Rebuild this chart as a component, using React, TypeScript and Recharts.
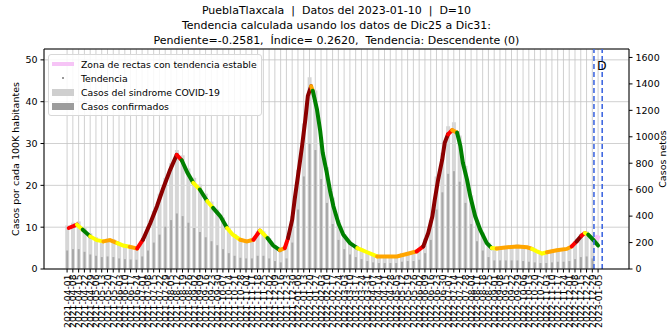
import React from "react";
import { ComposedChart, Bar, Line, XAxis, YAxis, CartesianGrid, ReferenceLine } from "recharts";

const START = Date.UTC(2021, 3, 1);
const DAY = 86400000;
const fmt = (d: number) => new Date(START + d * DAY).toISOString().slice(0, 10);

// weekly x ticks from 2021-04-01
const tickDays = Array.from({ length: 93 }, (_, i) => i * 7);

// weekly bars (days since 2021-04-01), casos netos
const barDays = Array.from({ length: 92 }, (_, i) => i * 7);
const sindrome = [
  330, 350, 360, 310, 270, 240, 220, 230, 225, 200, 185, 180, 165, 220, 320, 440,
  570, 690, 800, 900, 860, 760, 690, 640, 570, 510, 450, 390, 310, 265, 235, 220,
  230, 285, 285, 235, 180, 155, 200, 400, 750, 1100, 1450, 1350, 1000, 770, 540, 370,
  265, 210, 180, 155, 135, 115, 100, 100, 100, 100, 120, 130, 135, 155, 230, 370,
  700, 880, 1080, 1110, 1010, 780, 560, 370, 275, 200, 165, 170, 175, 180, 185, 180,
  170, 155, 130, 130, 145, 155, 160, 170, 210, 265, 285, 240,
];
const confirmados = [
  140, 150, 150, 130, 110, 100, 90, 95, 90, 80, 75, 72, 70, 95, 140, 200,
  260, 320, 370, 420, 400, 350, 310, 280, 240, 210, 180, 150, 120, 100, 85, 80,
  80, 100, 100, 80, 60, 50, 80, 200, 450, 700, 950, 900, 680, 500, 340, 220,
  150, 110, 90, 75, 60, 50, 45, 45, 45, 45, 55, 60, 60, 70, 120, 220,
  450, 580, 720, 740, 660, 500, 340, 210, 140, 90, 65, 65, 65, 65, 65, 60,
  55, 50, 45, 45, 50, 55, 55, 60, 75, 90, 95, 80,
];

// tendencia (casos por 100K), days since 2021-04-01
const trendDays = [
  2, 12, 19, 28, 36, 44, 52, 61, 68, 76, 85, 92, 101, 109, 116, 125, 133, 139, 146, 153,
  161, 170, 177, 186, 194, 201, 210, 218, 226, 234, 243, 250, 258, 264, 268, 273, 276, 280, 285, 289,
  292, 296, 298, 303, 307, 310, 315, 319, 323, 329, 335, 343, 352, 364, 376, 388, 400, 412, 420, 424,
  432, 438, 443, 446, 450, 455, 458, 462, 467, 473, 477, 480, 485, 489, 495, 501, 509, 515, 521, 534,
  546, 558, 564, 570, 576, 582, 594, 606, 612, 618, 624, 628, 632, 638, 644,
];
const trendValues = [
  9.8, 10.6, 9.4, 7.8, 6.9, 6.6, 6.9, 6.2, 5.6, 5.3, 4.9, 7.0, 11, 15, 19, 23.7, 27.3, 26, 23, 20.6,
  19, 16.2, 14.6, 12.6, 9.8, 8.2, 7.0, 6.6, 7.0, 9.2, 7.4, 5.6, 4.5, 5.0, 7.4, 11.8, 16.6, 22.2, 29.4, 35.8,
  41.4, 43.7, 42.6, 38.2, 33, 27.8, 23, 18.6, 15, 11, 8.2, 6.2, 5.0, 4.0, 3.0, 3.0, 3.0, 3.6, 4.0, 4.2,
  5.4, 8.6, 12.6, 16.6, 21.4, 26.2, 30.2, 32.2, 33.2, 32.6, 29.4, 25.4, 21.4, 17.4, 12.6, 9.4, 6.2, 5.0, 4.9, 5.2,
  5.4, 5.2, 4.8, 4.2, 3.7, 4.0, 4.5, 4.8, 5.4, 6.6, 8.0, 8.6, 8.2, 7.0, 5.6,
];
// one code per trend point: d muy ascendente, r ascendente, o / y estable, g descendente
const trendCodes = [
  "r", "y", "g", "y", "y", "o", "o", "y", "y", "o", "r", "d", "d", "d", "d", "d", "r", "g", "g", "y",
  "g", "y", "g", "g", "y", "y", "o", "o", "r", "y", "g", "g", "o", "r", "d", "d", "d", "d", "d", "d",
  "d", "o", "g", "g", "g", "g", "g", "g", "g", "g", "g", "g", "y", "y", "o", "o", "o", "o", "o", "r",
  "d", "d", "d", "d", "d", "d", "d", "r", "o", "g", "g", "g", "g", "g", "g", "g", "g", "y", "o", "o",
  "o", "o", "y", "y", "y", "o", "o", "o", "r", "d", "r", "y", "g", "g", "g",
];

const codeColor: Record<string, string> = {
  d: "#8b0000",
  r: "#ff0000",
  o: "#ffa500",
  y: "#ffff00",
  g: "#008000",
};

const stableZone = [
  { day: 640, v: 7.7 },
  { day: 646, v: 7.3 },
];

const barData = barDays.map((day, i) => ({ day, sindrome: sindrome[i], confirmados: confirmados[i] }));

const segments: { color: string; points: { day: number; v: number }[] }[] = [];
{
  let i = 0;
  while (i < trendDays.length) {
    const c = trendCodes[i];
    let j = i;
    while (j + 1 < trendDays.length && trendCodes[j + 1] === c) j++;
    const end = Math.min(j + 1, trendDays.length - 1);
    const points = [];
    for (let k = i; k <= end; k++) points.push({ day: trendDays[k], v: trendValues[k] });
    segments.push({ color: codeColor[c], points });
    i = j + 1;
  }
}

const FONT = "'DejaVu Sans', sans-serif";
const X_DOMAIN: [number, number] = [-28, 681.5];

const DateTick = ({ x, y, payload }: any) => (
  <text
    x={x}
    y={y}
    transform={`rotate(-90 ${x} ${y})`}
    textAnchor="end"
    dominantBaseline="central"
    fontSize={9.2}
    fontFamily={FONT}
    fill="#000"
  >
    {fmt(payload.value)}
  </text>
);

const legendRows = [
  { label: "Zona de rectas con tendencia estable", kind: "pink" },
  { label: "Tendencia", kind: "dot" },
  { label: "Casos del sindrome COVID-19", kind: "light" },
  { label: "Casos confirmados", kind: "dark" },
];

function Swatch({ kind }: { kind: string }) {
  if (kind === "pink") return <div style={{ width: 22, height: 4, background: "#f6c4f6" }} />;
  if (kind === "dot")
    return (
      <div style={{ width: 22, display: "flex", justifyContent: "center" }}>
        <div style={{ width: 2, height: 2, borderRadius: 1, background: "#777" }} />
      </div>
    );
  return <div style={{ width: 22, height: 7, background: kind === "light" ? "#cfcfcf" : "#9c9c9c" }} />;
}

export default function App() {
  return (
    <div style={{ position: "absolute", left: 0, top: 0, width: 671, height: 331, background: "#fff", fontFamily: FONT, overflow: "hidden" }}>
      <div style={{ position: "absolute", left: 0, top: 3, width: 673, textAlign: "center", fontSize: 11, lineHeight: "15px", color: "#000" }}>
        <div>PueblaTlaxcala&nbsp; | &nbsp;Datos del 2023-01-10&nbsp; | &nbsp;D=10</div>
        <div>Tendencia calculada usando los datos de Dic25 a Dic31:</div>
        <div>Pendiente=-0.2581,&nbsp; Índice= 0.2620,&nbsp; Tendencia: Descendente (0)</div>
      </div>
      <ComposedChart width={671} height={331} data={barData} margin={{ top: 49, right: 0, bottom: 0, left: 0 }}>
        <CartesianGrid yAxisId="left" stroke="#c4c4c4" strokeWidth={0.8} />
        <XAxis
          type="number"
          dataKey="day"
          domain={X_DOMAIN}
          ticks={tickDays}
          interval={0}
          allowDataOverflow
          height={62}
          tick={<DateTick />}
          tickSize={3.5}
          tickMargin={2}
          stroke="#000"
        />
        <XAxis xAxisId="bars" type="number" dataKey="day" domain={X_DOMAIN} ticks={tickDays} allowDataOverflow hide />
        <XAxis xAxisId="conf" type="number" dataKey="day" domain={X_DOMAIN} ticks={tickDays} allowDataOverflow hide />
        <YAxis
          yAxisId="left"
          orientation="left"
          width={44}
          domain={[0, 52.6]}
          ticks={[0, 10, 20, 30, 40, 50]}
          allowDataOverflow
          tickSize={3.5}
          tickMargin={3}
          stroke="#000"
          tick={{ fill: "#000", fontSize: 9.5, fontFamily: FONT }}
        />
        <YAxis
          yAxisId="right"
          orientation="right"
          width={42}
          domain={[0, 1664]}
          ticks={[0, 200, 400, 600, 800, 1000, 1200, 1400, 1600]}
          allowDataOverflow
          tickSize={3.5}
          tickMargin={3}
          stroke="#000"
          tick={{ fill: "#000", fontSize: 9.5, fontFamily: FONT }}
        />
        <Bar yAxisId="right" xAxisId="bars" dataKey="sindrome" fill="#d6d6d6" barSize={4} isAnimationActive={false} />
        <Bar yAxisId="right" xAxisId="conf" dataKey="confirmados" fill="#a8a8a8" barSize={2} isAnimationActive={false} />
        <Line
          yAxisId="left"
          data={stableZone}
          dataKey="v"
          stroke="#f6c4f6"
          strokeWidth={5}
          dot={false}
          isAnimationActive={false}
        />
        {segments.map((s, i) => (
          <Line
            key={i}
            yAxisId="left"
            data={s.points}
            dataKey="v"
            stroke={s.color}
            strokeWidth={4}
            strokeLinecap="round"
            dot={false}
            isAnimationActive={false}
          />
        ))}
        <ReferenceLine yAxisId="left" y={52.6} stroke="#000" />
        <ReferenceLine yAxisId="left" x={639} stroke="#4169e1" strokeWidth={1.6} strokeDasharray="5 3" />
        <ReferenceLine yAxisId="left" x={649} stroke="#4169e1" strokeWidth={1.6} strokeDasharray="5 3" />
      </ComposedChart>
      <div style={{ position: "absolute", left: 597, top: 58, fontSize: 12.5, color: "#000" }}>D</div>
      <div
        style={{
          position: "absolute",
          left: 48,
          top: 54,
          width: 214,
          height: 62,
          border: "1px solid #d8d8d8",
          borderRadius: 3,
          background: "rgba(255,255,255,0.85)",
          boxSizing: "border-box",
          padding: "2px 0 0 3px",
        }}
      >
        {legendRows.map((r) => (
          <div key={r.label} style={{ display: "flex", alignItems: "center", height: 14, fontSize: 9.3, color: "#000" }}>
            <Swatch kind={r.kind} />
            <span style={{ marginLeft: 7, whiteSpace: "nowrap" }}>{r.label}</span>
          </div>
        ))}
      </div>
      <div
        style={{
          position: "absolute",
          left: 15,
          top: 159,
          transform: "translate(-50%, -50%) rotate(-90deg)",
          fontSize: 9.5,
          whiteSpace: "nowrap",
          color: "#000",
        }}
      >
        Casos por cada 100K habitantes
      </div>
      <div
        style={{
          position: "absolute",
          left: 662,
          top: 159,
          transform: "translate(-50%, -50%) rotate(-90deg)",
          fontSize: 9.5,
          whiteSpace: "nowrap",
          color: "#000",
        }}
      >
        Casos netos
      </div>
    </div>
  );
}
